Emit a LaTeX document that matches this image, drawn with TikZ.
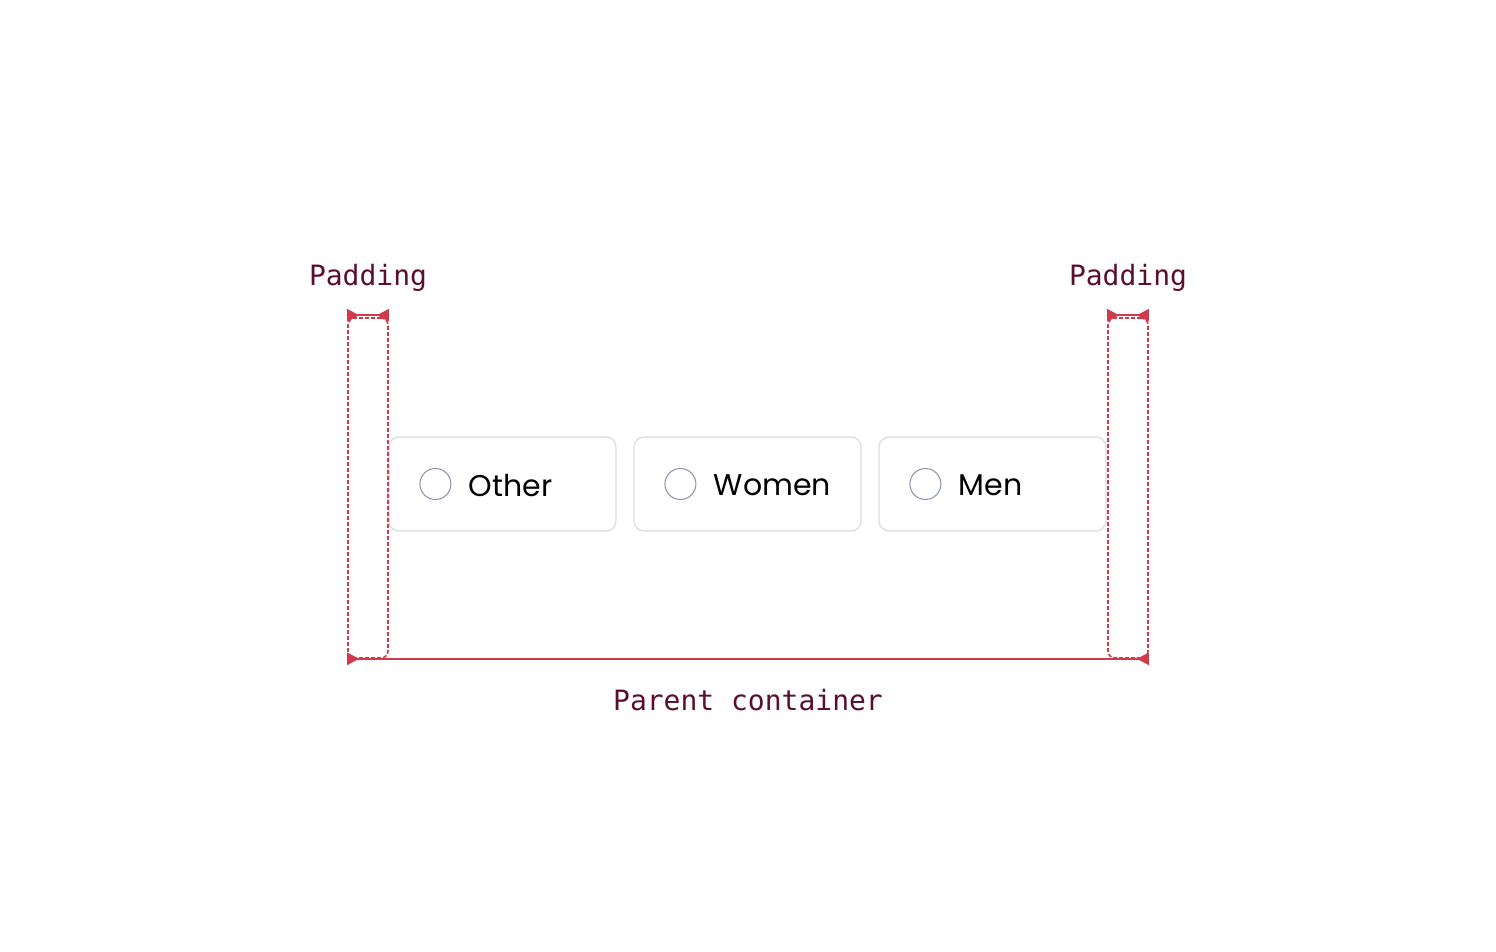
\documentclass[tikz,border=0pt]{standalone}
\usepackage{fontspec}
\setmainfont{Poppins}
\setmonofont{DejaVu Sans Mono}
\usetikzlibrary{arrows.meta,positioning}
\definecolor{measure}{RGB}{208,58,74}
\definecolor{labeltext}{RGB}{90,14,48}
\definecolor{cardline}{RGB}{218,220,226}
\definecolor{radioline}{RGB}{138,142,176}

\tikzset{
    card/.style={draw=cardline, line width=0.6pt, fill=white, rounded corners=5pt,
        minimum width=113.5pt, minimum height=47pt, inner sep=0pt},
    radio/.style={draw=radioline, line width=0.5pt, circle, minimum size=15.5pt, inner sep=0pt},
    choice/.style={font=\fontsize{15pt}{18pt}\selectfont, inner sep=0pt, anchor=west},
    padbox/.style={draw=measure, dash pattern=on 2pt off 1pt, line width=0.8pt,
        rounded corners=3.5pt, minimum width=20pt, minimum height=170pt, inner sep=0pt},
    dimline/.style={draw=measure, line width=1pt,
        {Triangle[reversed,length=6pt,width=6pt]}-{Triangle[reversed,length=6pt,width=6pt]}},
    dimlabel/.style={text=labeltext, font=\ttfamily\fontsize{14pt}{17pt}\selectfont, inner sep=0pt}
}

\begin{document}
\begin{tikzpicture}[x=0.5pt, y=-0.5pt]
    \useasboundingbox (0,0) rectangle (1496,952);
    % cards
    \node[card] (other) at (502.5,484) {};
    \node[card] (women) at (747.5,484) {};
    \node[card] (men) at (992.5,484) {};
    \foreach \c/\t in {other/Other, women/Women, men/Men} {
        \node[radio] (\c-r) at ([xshift=23.5pt]\c.west) {};
        \node[choice] (\c-t) at ([xshift=16.5pt,yshift=-0.6pt]\c-r.center) {\t};
    }
    % padding boxes
    \node[padbox] (padL) at (368,488) {};
    \node[padbox] (padR) at (1128,488) {};
    % measurements
    \coordinate (padL-a) at ([yshift=1pt]padL.north west);
    \coordinate (padL-b) at ([yshift=1pt]padL.north east);
    \coordinate (padR-a) at ([yshift=1pt]padR.north west);
    \coordinate (padR-b) at ([yshift=1pt]padR.north east);
    \path[dimline] (padL-a) -- (padL-b);
    \path[dimline] (padR-a) -- (padR-b);
    \path[dimline] (padL.south west) -- (padR.south east);
    % labels
    \node[dimlabel] (padL-l) at (368,278) {Padding};
    \node[dimlabel] (padR-l) at (1128,278) {Padding};
    \node[dimlabel] (parent) at (748,700) {Parent container};
\end{tikzpicture}
\end{document}
